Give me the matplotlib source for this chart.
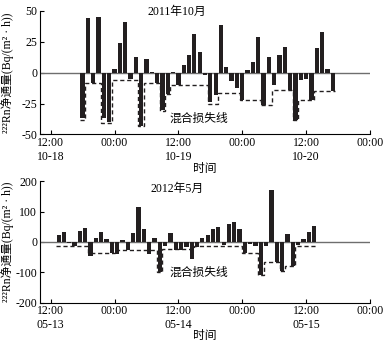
import numpy as np
import pandas as pd
import matplotlib
matplotlib.use("Agg")
import matplotlib.pyplot as plt
import matplotlib.dates as mdates

plt.rcParams['font.family'] = ['Liberation Serif', 'Noto Sans CJK SC', 'DejaVu Sans']
plt.rcParams['axes.unicode_minus'] = False

# ---- 2011-10 data (hourly) ----
t1_start = "2011-10-18 18:00"
flux_2011 = [-37, 44, -8, 45, -37, -40, 3, 24, 41, -5, 13, -43, 11, 1, -8, -30,
             -17, 1, -10, 6, 14, 31, 17, -2, -24, -18, 39, 5, -7, -12, -22, 2,
             9, 29, -26, 13, -10, 14, 21, -14, -38, -6, -5, -22, 20, 33, 3, -15]
mix_2011 = [-38, -8, -8, -8, -41, -41, -6, -6, -6, -6, -6, -43, -8, -8, -8, -31,
            -17, -10, -10, -10, -10, -10, -10, -10, -25, -25, -16, -16, -16, -16, -22, -22,
            -22, -22, -26, -26, -14, -14, -14, -14, -38, -22, -22, -22, -15, -15, -15, -15]
xlim_2011 = ("2011-10-18 10:00", "2011-10-21 00:00")
ticks_2011 = ["2011-10-18 12:00", "2011-10-19 00:00", "2011-10-19 12:00",
              "2011-10-20 00:00", "2011-10-20 12:00", "2011-10-21 00:00"]
ticklabels_2011 = ["12:00\n10-18", "00:00", "12:00\n10-19", "00:00", "12:00\n10-20", "00:00"]

# ---- 2012-05 data (hourly) ----
t2_start = "2012-05-13 13:30"
flux_2012 = [22, 34, -4, -12, 35, 46, -47, 14, 34, 8, -35, -40, 5, -28, 29, 116,
             42, -40, 12, -98, -12, 28, -26, -27, -18, -55, -18, 14, 22, 41, 50, -10,
             58, 67, 42, -35, -8, -15, -110, -14, 170, -66, -97, 25, -78, -10, 9, 33, 52]
mix_2012 = [-12, -12, -12, -12, -12, -12, -35, -35, -35, -35, -35, -28, -28, -28, -28, -28,
            -28, -28, -28, -100, -25, -25, -25, -25, -25, -25, -15, -15, -15, -15, -15, -15,
            -15, -15, -15, -35, -35, -35, -110, -65, -65, -65, -97, -78, -78, -12, -12, -12, -12]
xlim_2012 = ("2012-05-13 10:00", "2012-05-16 00:00")
ticks_2012 = ["2012-05-13 12:00", "2012-05-14 00:00", "2012-05-14 12:00",
              "2012-05-15 00:00", "2012-05-15 12:00", "2012-05-16 00:00"]
ticklabels_2012 = ["12:00\n05-13", "00:00", "12:00\n05-14", "00:00", "12:00\n05-15", "00:00"]

ylabel = "²²²Rn净通量(Bq/(m² · h))"
cjk = ['Noto Sans CJK SC', 'DejaVu Sans']
serif_cjk = ['Liberation Serif', 'Noto Sans CJK SC']

fig = plt.figure(figsize=(3.89, 3.44), dpi=100)

def panel(rect, start, flux, mix, xlim, ticks, ticklabels, ylim, yticks, title, title_y, ann_y):
    ax = fig.add_axes(rect)
    times = pd.date_range(start, periods=len(flux), freq="h")
    tnum = mdates.date2num(times)
    step = 1.0 / 24
    ax.bar(tnum, flux, width=0.8 * step, color="#231f20", edgecolor="none", zorder=3)
    edges = np.append(tnum - step / 2, tnum[-1] + step / 2)
    ax.stairs(mix, edges, baseline=None, color="#231f20", linestyle=(0, (3.0, 2.0)),
              linewidth=1.0, zorder=4)
    ax.axhline(0, color="#6e6e6e", linewidth=1.0, zorder=2)
    ax.set_xlim(mdates.date2num(pd.Timestamp(xlim[0])), mdates.date2num(pd.Timestamp(xlim[1])))
    ax.set_ylim(*ylim)
    ax.set_xticks(mdates.date2num(pd.to_datetime(ticks)))
    ax.set_xticklabels(ticklabels, fontsize=8.5, linespacing=1.2)
    ax.set_yticks(yticks)
    ax.set_yticklabels([str(v) for v in yticks], fontsize=8.5)
    ax.tick_params(direction="in", length=3, width=0.8, pad=2)
    for s in ["top", "right"]:
        ax.spines[s].set_visible(False)
    for s in ["left", "bottom"]:
        ax.spines[s].set_linewidth(0.8)
    ax.text(0.415, title_y, title, transform=ax.transAxes, ha="center", va="center",
            fontsize=8.5, family=serif_cjk)
    ax.text(0.48, ann_y, "混合损失线", transform=ax.transAxes, ha="center", va="center",
            fontsize=8.5, family=cjk)
    ax.set_ylabel(ylabel, fontsize=8.5, labelpad=1, family=serif_cjk)
    ax.yaxis.set_label_coords(-0.078, 0.5)
    ax.set_xlabel("时间", fontsize=8.5, family=cjk, labelpad=0)
    ax.xaxis.set_label_coords(0.5, -0.22)
    return ax

ax1 = panel([40 / 389, 1 - 134.5 / 344, 330 / 389, 123.5 / 344], t1_start, flux_2011, mix_2011,
            xlim_2011, ticks_2011, ticklabels_2011, (-50, 50), [50, 25, 0, -25, -50],
            "2011年10月", 0.995, 0.135)
ax2 = panel([40 / 389, 1 - 302.5 / 344, 330 / 389, 121.2 / 344], t2_start, flux_2012, mix_2012,
            xlim_2012, ticks_2012, ticklabels_2012, (-200, 200), [200, 100, 0, -100, -200],
            "2012年5月", 0.94, 0.25)

fig.savefig("out.png", dpi=100)
